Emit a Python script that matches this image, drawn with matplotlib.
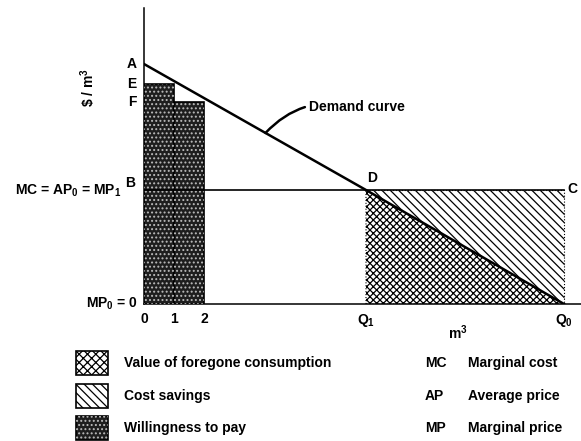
import numpy as np
import matplotlib
matplotlib.use("Agg")
import matplotlib.pyplot as plt
from matplotlib.patches import Rectangle

plt.rcParams['font.family'] = ['Liberation Sans', 'DejaVu Sans']
plt.rcParams['font.weight'] = 'bold'
plt.rcParams['mathtext.default'] = 'regular'
plt.rcParams['hatch.linewidth'] = 0.9

# demand curve through A, D and Q0
demand_q = [0.0, 7.4, 14.0]
demand_p = [10.0, 4.75, 0.0]
mc_price = 4.75

# willingness to pay for unit 1 and unit 2
wtp_units = [0, 1]
wtp_values = [9.15, 8.4]

price_marks = [10.0, 9.15, 8.4]
price_letters = ['A', 'E', 'F']

xtick_pos = [0, 1, 2, 7.4, 14.0]
xtick_labels = ['0', '1', '2', 'Q$_1$', 'Q$_0$']

legend_labels = ['Value of foregone consumption', 'Cost savings', 'Willingness to pay']
abbrevs = ['MC', 'AP', 'MP']
abbrev_text = ['Marginal cost', 'Average price', 'Marginal price']

W, H = 581, 441
fig = plt.figure(figsize=(W / 100, H / 100), dpi=100)
ax = fig.add_axes([144 / W, 137 / H, 437 / W, 296 / H])
ax.set_xlim(0, 437 / 30)
ax.set_ylim(0, 296 / 24)

q1, pd_ = demand_q[1], demand_p[1]
q0 = demand_q[2]

# areas
ax.fill([q1, q1, q0], [0, pd_, 0], facecolor='white', edgecolor='black',
        hatch='xxxxx', linewidth=0.8, linestyle=':')
ax.fill([q1, q0, q0], [pd_, mc_price, 0], facecolor='white', edgecolor='black',
        hatch='\\\\\\\\', linewidth=0.8, linestyle=':')

# willingness to pay bars
ax.bar(wtp_units, wtp_values, width=1, align='edge', color='#1e1e1e',
       edgecolor='black', linewidth=1.2, zorder=2)
ax.bar(wtp_units, wtp_values, width=1, align='edge', color='none',
       edgecolor='#bbbbbb', hatch='....', linewidth=0, zorder=3)

ax.plot([0, q0], [mc_price, mc_price], color='black', lw=1.2, zorder=4)
ax.plot(demand_q, demand_p, color='black', lw=1.8, zorder=4)

for sp in ['top', 'right']:
    ax.spines[sp].set_visible(False)
ax.spines['left'].set_linewidth(1.1)
ax.spines['bottom'].set_linewidth(1.1)
ax.set_yticks([])
ax.set_xticks(xtick_pos)
ax.set_xticklabels(xtick_labels, fontsize=10, fontweight='bold')
ax.tick_params(axis='x', length=0, pad=6)

fs = 10
for p, lab in zip(price_marks, price_letters):
    ax.text(-0.25, p, lab, ha='right', va='center', fontsize=fs, fontweight='bold')
ax.text(-0.3, mc_price + 0.3, 'B', ha='right', va='center', fontsize=fs, fontweight='bold')
ax.text(-0.75, mc_price - 0.05, 'MC = AP$_0$ = MP$_1$', ha='right', va='center',
        fontsize=fs, fontweight='bold')
ax.text(-0.2, 0, 'MP$_0$ = 0', ha='right', va='center', fontsize=fs, fontweight='bold')
ax.text(-1.85, 9.0, r'\$ / m$^3$', ha='center', va='center', rotation=90,
        fontsize=fs, fontweight='bold')
ax.text(q1 + 0.05, pd_ + 0.5, 'D', ha='left', va='center', fontsize=fs, fontweight='bold')
ax.text(q0 + 0.27, mc_price + 0.05, 'C', ha='center', va='center', fontsize=fs, fontweight='bold')
ax.text(10.45, -1.2, 'm$^3$', ha='center', va='center', fontsize=fs,
        fontweight='bold', clip_on=False)

xa = 4.05
ya = np.interp(xa, demand_q, demand_p)
ax.annotate('Demand curve', xy=(xa, ya), xytext=(5.5, 8.2), ha='left', va='center',
            fontsize=fs, fontweight='bold',
            arrowprops=dict(arrowstyle='-', lw=1.8, color='black',
                            connectionstyle='arc3,rad=0.3', shrinkA=1, shrinkB=0))

# legend drawn in pixel coordinates
lg = fig.add_axes([0, 0, 1, 1], facecolor='none')
lg.set_xlim(0, W)
lg.set_ylim(H, 0)
lg.axis('off')
rows = [363, 396, 428]
hatches = ['xxxx', '\\\\\\\\', None]
for y, lab, h in zip(rows, legend_labels, hatches):
    if h is None:
        lg.add_patch(Rectangle((76, y - 12), 32, 24, facecolor='#1e1e1e', edgecolor='black', lw=1.2))
        lg.add_patch(Rectangle((76, y - 12), 32, 24, facecolor='none', edgecolor='#bbbbbb',
                               hatch='....', lw=0))
    else:
        lg.add_patch(Rectangle((76, y - 12), 32, 24, facecolor='white', edgecolor='black',
                               hatch=h, lw=1.2))
    lg.text(124, y, lab, ha='left', va='center', fontsize=fs, fontweight='bold')
for y, ab, t in zip(rows, abbrevs, abbrev_text):
    lg.text(425, y, ab, ha='left', va='center', fontsize=fs, fontweight='bold')
    lg.text(468, y, t, ha='left', va='center', fontsize=fs, fontweight='bold')

fig.savefig('out.png', dpi=100)
